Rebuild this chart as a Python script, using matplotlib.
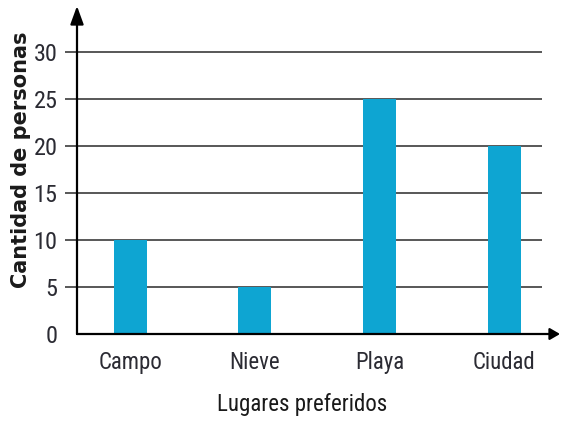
import matplotlib
matplotlib.use("Agg")
import matplotlib.pyplot as plt
from matplotlib import font_manager
import numpy as np

lugares = ["Campo", "Nieve", "Playa", "Ciudad"]
personas = [10, 5, 25, 20]
y_ticks = [0, 5, 10, 15, 20, 25, 30]

W, H = 564, 421
BAR_COLOR = "#0ea5d2"

# look for a narrow face, the reference uses a condensed sans
names = {f.name for f in font_manager.fontManager.ttflist}
narrow_font = None
for cand in ["Roboto Condensed", "Liberation Sans Narrow", "Open Sans Condensed",
             "Noto Sans Condensed", "DejaVu Sans Condensed"]:
    if cand in names:
        narrow_font = cand
        break
cond_stretch = "normal"
if narrow_font is None:
    for f in font_manager.fontManager.ttflist:
        if f.stretch == "condensed" or "Condensed" in f.fname or "Narrow" in f.fname:
            narrow_font = f.name
            cond_stretch = "condensed"
            break
if narrow_font is None:
    narrow_font = "DejaVu Sans"
NARROW = dict(family=[narrow_font, "DejaVu Sans"], stretch=cond_stretch)

fig = plt.figure(figsize=(W / 100, H / 100), dpi=100)
fig.patch.set_facecolor("white")

# axes box in pixels: y axis at x=77, baseline at y=334, arrow tips at x=560 / y=6
left, right, top, base = 77, 560, 6, 334
ax = fig.add_axes([left / W, (H - base) / H, (right - left) / W, (base - top) / H])

x = np.arange(len(lugares))
px_per_cat = 124.7
ax.set_xlim((left - 130) / px_per_cat, (right - 130) / px_per_cat)
px_per_unit = (334 - 52) / 30
ax.set_ylim(0, (base - top) / px_per_unit)

# grid lines reaching a bit left of the axis
g_left = (65 - 130) / px_per_cat
g_right = (542 - 130) / px_per_cat
for t in y_ticks[1:]:
    ax.hlines(t, g_left, g_right, color="#4a4a4a", lw=1.3, clip_on=False, zorder=1)

ax.bar(x, personas, width=33 / px_per_cat, color=BAR_COLOR, zorder=2)

for s in ax.spines.values():
    s.set_visible(False)

# axes with arrow heads
ax.annotate("", xy=(0, 1), xycoords="axes fraction", xytext=(0, 0),
            arrowprops=dict(arrowstyle="-|>,head_length=1.1,head_width=0.4",
                            color="black", lw=1.6, shrinkA=0, shrinkB=0), zorder=3)
ax.annotate("", xy=(1, 0), xycoords="axes fraction", xytext=(0, 0),
            arrowprops=dict(arrowstyle="-|>,head_length=0.6,head_width=0.35",
                            color="black", lw=1.6, shrinkA=0, shrinkB=0), zorder=3)

ax.set_yticks(y_ticks)
ax.set_yticklabels([str(t) for t in y_ticks], fontsize=17.5, color="#2b2b33", **NARROW)
ax.tick_params(axis="y", length=0, pad=14)
ax.set_xticks(x)
ax.set_xticklabels(lugares, fontsize=16.5, color="#2b2b33", **NARROW)
ax.tick_params(axis="x", length=0, pad=12)

ax.set_xlabel("Lugares preferidos", fontsize=16.5, color="#1a1a1a", **NARROW)
ax.xaxis.set_label_coords((302 - left) / (right - left), -(405 - base) / (base - top))
ax.xaxis.label.set_va("center")
fig.text(21 / W, 1 - 160 / H, "Cantidad de personas", rotation=90, ha="center", va="center",
         fontsize=15, fontweight="bold", color="#1a1a1a")

fig.savefig("out.png", dpi=100)
